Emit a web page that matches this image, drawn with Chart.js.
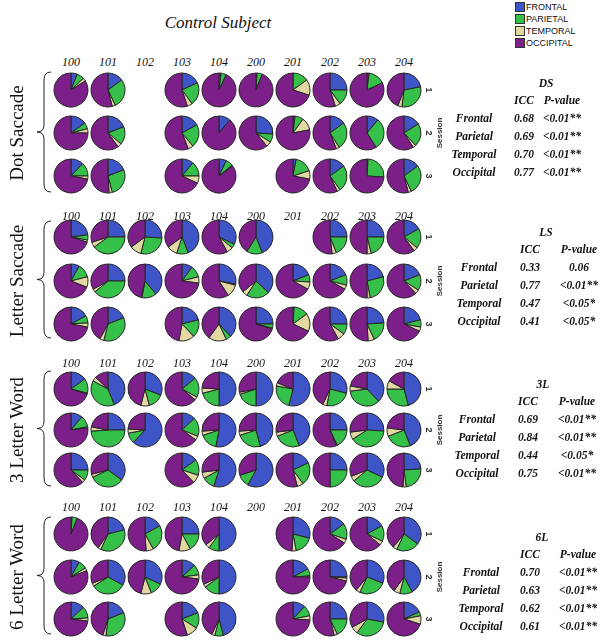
<!DOCTYPE html>
<html>
<head>
<meta charset="utf-8">
<script src="https://cdn.jsdelivr.net/npm/chart.js@4"></script>
<style>
    html, body { margin: 0; padding: 0; background: #fff; }
    #figure { position: relative; width: 600px; height: 641px; overflow: hidden; }
    #figure canvas { position: absolute; }
    .t { position: absolute; white-space: nowrap; transform: translate(-50%, -50%); color: #111; line-height: 1; }
    .serif { font-family: "Liberation Serif", "DejaVu Serif", serif; }
    .stat { font-family: "Liberation Serif", serif; font-style: italic; font-weight: bold; font-size: 11.5px; }
    .sans { font-family: "Liberation Sans", Arial, sans-serif; }
</style>
</head>
<body>
<div id="figure">
    <svg id="braces" width="600" height="641" style="position:absolute;left:0;top:0"></svg>
</div>
<script>
const subjects = ["100", "101", "102", "103", "104", "200", "201", "202", "203", "204"];
const regions = ["FRONTAL", "PARIETAL", "TEMPORAL", "OCCIPITAL"];
const regionColors = ["#3d55c6", "#35c04a", "#e2d9a2", "#7c1f88"];
const sessions = ["1", "2", "3"];
const statLabels = ["Frontal", "Parietal", "Temporal", "Occipital"];

// % of activation per region [frontal, parietal, temporal, occipital]; null = no session
const dotSaccade = [
    [[6, 7, 3, 84], [15, 28, 3, 54], null, [18, 22, 5, 55], [2, 5, 0, 93], [1, 5, 0, 94], [0, 15, 15, 70], [25, 15, 5, 55], [2, 16, 0, 82], [22, 30, 4, 44]],
    [[15, 6, 4, 75], [19, 17, 4, 60], null, [17, 22, 5, 56], [11, 0, 0, 89], [26, 8, 5, 61], [2, 8, 12, 78], [15, 26, 3, 56], [11, 30, 0, 59], [16, 22, 3, 59]],
    [[12, 13, 3, 72], [19, 27, 3, 51], null, [11, 14, 7, 68], [7, 7, 1, 85], null, [3, 17, 8, 72], [15, 25, 3, 57], [1, 25, 0, 74], [15, 28, 3, 54]]
];
const letterSaccade = [
    [[23, 5, 2, 70], [25, 40, 5, 30], [26, 28, 11, 35], [44, 11, 10, 35], [32, 4, 6, 58], [44, 15, 0, 41], null, [25, 19, 4, 52], [25, 21, 4, 50], [17, 19, 4, 60]],
    [[8, 13, 10, 69], [25, 39, 3, 33], [39, 14, 1, 46], [10, 11, 6, 73], [28, 1, 12, 59], [37, 22, 5, 36], [19, 7, 7, 67], [19, 10, 4, 67], [21, 26, 3, 50], [19, 15, 4, 62]],
    [[17, 7, 4, 72], [19, 35, 4, 42], null, [21, 17, 15, 47], [38, 5, 17, 40], [25, 4, 1, 70], [1, 14, 17, 68], [25, 10, 7, 58], [24, 19, 6, 51], [21, 7, 4, 68]]
];
const threeLetterWord = [
    [[15, 14, 1, 70], [44, 39, 4, 13], [31, 15, 8, 46], [14, 19, 3, 64], [50, 21, 5, 24], [50, 20, 2, 28], [54, 24, 3, 19], [29, 24, 4, 43], [38, 35, 5, 22], [46, 29, 8, 17]],
    [[11, 11, 1, 77], [25, 49, 4, 22], [62, 10, 4, 24], [13, 18, 4, 65], [53, 17, 4, 26], [46, 24, 4, 26], [44, 25, 4, 27], [25, 18, 1, 56], [26, 40, 7, 27], [44, 25, 8, 23]],
    [[25, 10, 3, 62], [35, 33, 3, 29], null, [15, 15, 8, 62], [55, 12, 6, 27], [58, 12, 0, 30], [18, 22, 6, 54], [25, 25, 0, 50], [32, 32, 5, 31], [24, 24, 3, 49]]
];
const sixLetterWord = [
    [[1, 5, 0, 94], [21, 36, 3, 40], [17, 25, 7, 51], [25, 17, 11, 47], [50, 10, 4, 36], null, [29, 18, 4, 49], [15, 15, 4, 66], [17, 15, 4, 64], [35, 22, 4, 39]],
    [[8, 8, 3, 81], [33, 33, 3, 31], [32, 12, 10, 46], [13, 10, 4, 73], [50, 15, 3, 32], null, [17, 7, 1, 75], [25, 1, 3, 71], [31, 26, 4, 39], [42, 12, 6, 40]],
    [[13, 11, 3, 73], [19, 33, 3, 45], null, [19, 15, 11, 55], [46, 8, 3, 43], null, [12, 10, 4, 74], [25, 18, 3, 54], [28, 32, 7, 33], [18, 4, 8, 70]]
];

const dsIcc = ["0.68", "0.69", "0.70", "0.77"];
const dsP = ["<0.01**", "<0.01**", "<0.01**", "<0.01**"];
const lsIcc = ["0.33", "0.77", "0.47", "0.41"];
const lsP = ["0.06", "<0.01**", "<0.05*", "<0.05*"];
const l3Icc = ["0.69", "0.84", "0.44", "0.75"];
const l3P = ["<0.01**", "<0.01**", "<0.05*", "<0.01**"];
const l6Icc = ["0.70", "0.63", "0.62", "0.61"];
const l6P = ["<0.01**", "<0.01**", "<0.01**", "<0.01**"];

const COL_X0 = 71;
const COL_STEP = 37;
const PIE_R = 17;

const blocks = [
    { name: "Dot Saccade", tag: "DS", pies: dotSaccade, icc: dsIcc, p: dsP,
      labelY: 62, rowY: [90, 133, 176], brace: [72, 192], statY: 84, statX: [474, 524, 562], tagX: 546 },
    { name: "Letter Saccade", tag: "LS", pies: letterSaccade, icc: lsIcc, p: lsP,
      labelY: 216, rowY: [237, 281, 324], brace: [221, 338], statY: 233, statX: [479, 530, 579], tagX: 546 },
    { name: "3 Letter Word", tag: "3L", pies: threeLetterWord, icc: l3Icc, p: l3P,
      labelY: 363, rowY: [389, 430, 470], brace: [371, 486], statY: 385, statX: [477, 528, 577], tagX: 543 },
    { name: "6 Letter Word", tag: "6L", pies: sixLetterWord, icc: l6Icc, p: l6P,
      labelY: 507, rowY: [534, 577, 619], brace: [517, 634], statY: 538, statX: [481, 530, 578], tagX: 542 }
];

const fig = document.getElementById("figure");
const braceSvg = document.getElementById("braces");

function addText(text, x, y, cls, css) {
    const el = document.createElement("div");
    el.className = "t " + cls;
    el.textContent = text;
    el.style.left = x + "px";
    el.style.top = y + "px";
    Object.assign(el.style, css || {});
    fig.appendChild(el);
    return el;
}

function drawPie(values, cx, cy) {
    const size = 2 * PIE_R + 4;
    const canvas = document.createElement("canvas");
    canvas.width = size;
    canvas.height = size;
    canvas.style.width = size + "px";
    canvas.style.height = size + "px";
    canvas.style.left = (cx - size / 2) + "px";
    canvas.style.top = (cy - size / 2) + "px";
    fig.appendChild(canvas);
    new Chart(canvas.getContext("2d"), {
        type: "pie",
        data: {
            labels: regions,
            datasets: [{
                data: values,
                backgroundColor: regionColors,
                borderColor: "#262626",
                borderWidth: 1
            }]
        },
        options: {
            responsive: false,
            animation: false,
            events: [],
            radius: PIE_R,
            hoverOffset: 0,
            plugins: { legend: { display: false }, tooltip: { enabled: false } }
        }
    });
}

function drawBrace(top, bottom) {
    const xr = 51, xm = 44, xl = 37;
    const mid = (top + bottom) / 2;
    const d = `M${xr},${top} Q${xm},${top} ${xm},${top + 8} L${xm},${mid - 7} Q${xm},${mid} ${xl},${mid} ` +
              `Q${xm},${mid} ${xm},${mid + 7} L${xm},${bottom - 8} Q${xm},${bottom} ${xr},${bottom}`;
    const path = document.createElementNS("http://www.w3.org/2000/svg", "path");
    path.setAttribute("d", d);
    path.setAttribute("fill", "none");
    path.setAttribute("stroke", "#222");
    path.setAttribute("stroke-width", "1");
    braceSvg.appendChild(path);
}

// title and legend
addText("Control Subject", 218, 22, "serif", { fontStyle: "italic", fontSize: "17px" });
regions.forEach((r, i) => {
    const sw = document.createElement("div");
    Object.assign(sw.style, {
        position: "absolute", left: "515px", top: (2 + i * 12) + "px", width: "8px", height: "8px",
        background: regionColors[i], border: "1px solid #333"
    });
    fig.appendChild(sw);
    addText(r, 526, 7 + i * 12, "sans", { fontSize: "9px", transform: "translate(0, -50%)" });
});

blocks.forEach(b => {
    subjects.forEach((s, j) => {
        addText(s, COL_X0 + j * COL_STEP, b.labelY, "serif", { fontStyle: "italic", fontSize: "12px" });
    });
    b.pies.forEach((row, i) => {
        row.forEach((values, j) => {
            if (values) {
                drawPie(values, COL_X0 + j * COL_STEP, b.rowY[i]);
            }
        });
        addText(sessions[i], 428, b.rowY[i], "sans", { fontSize: "9px", fontWeight: "bold", color: "#333", transform: "translate(-50%, -50%) rotate(90deg)" });
    });
    addText("Session", 440, b.rowY[1], "sans", { fontSize: "8px", fontWeight: "bold", color: "#333", transform: "translate(-50%, -50%) rotate(-90deg)" });

    drawBrace(b.brace[0], b.brace[1]);
    addText(b.name, 16, b.rowY[1], "serif", { fontSize: "19px", transform: "translate(-50%, -50%) rotate(-90deg)" });

    // ICC table
    addText(b.tag, b.tagX, b.statY, "stat");
    addText("ICC", b.statX[1], b.statY + 17, "stat");
    addText("P-value", b.statX[2], b.statY + 17, "stat");
    statLabels.forEach((lab, k) => {
        const y = b.statY + 35 + k * 18;
        addText(lab, b.statX[0], y, "stat");
        addText(b.icc[k], b.statX[1], y, "stat");
        addText(b.p[k], b.statX[2], y, "stat");
    });
});
</script>
</body>
</html>
